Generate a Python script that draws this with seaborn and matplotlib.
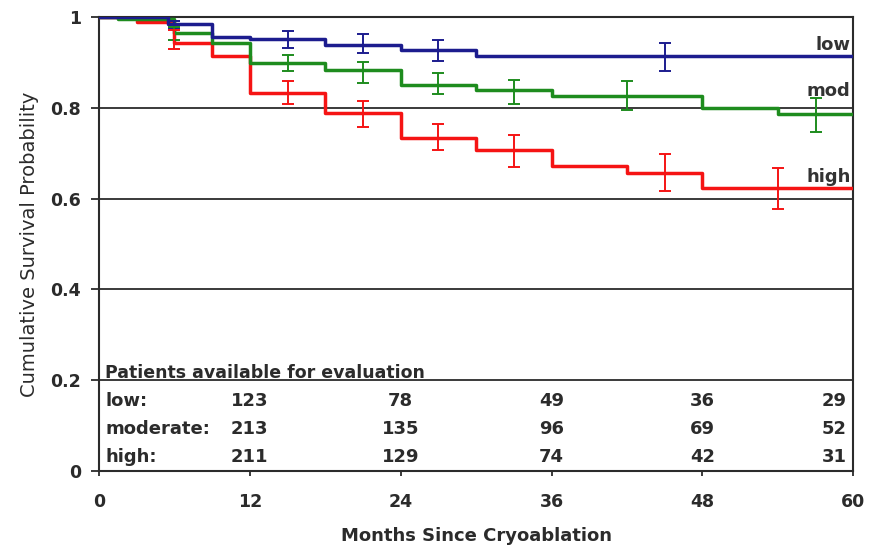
import numpy as np
import pandas as pd
import seaborn as sns
import matplotlib.pyplot as plt

# step curves (months, survival)
low_t = [0, 5.5, 9, 12, 18, 24, 30, 60]
low_s = [1, 0.984, 0.957, 0.951, 0.938, 0.927, 0.913, 0.913]
mod_t = [0, 1.5, 6, 9, 12, 18, 24, 30, 36, 48, 54, 60]
mod_s = [1, 0.995, 0.964, 0.943, 0.898, 0.883, 0.850, 0.839, 0.826, 0.799, 0.786, 0.786]
high_t = [0, 3, 6, 9, 12, 18, 24, 30, 36, 42, 48, 60]
high_s = [1, 0.988, 0.943, 0.913, 0.832, 0.788, 0.733, 0.706, 0.672, 0.657, 0.623, 0.623]

# error bars (month, lower, upper)
low_eb_t = [6, 15, 21, 27, 45]
low_eb_lo = [0.976, 0.932, 0.920, 0.904, 0.881]
low_eb_hi = [0.992, 0.969, 0.962, 0.949, 0.942]
mod_eb_t = [6, 15, 21, 27, 33, 42, 57]
mod_eb_lo = [0.950, 0.880, 0.855, 0.830, 0.808, 0.795, 0.746]
mod_eb_hi = [0.978, 0.916, 0.900, 0.877, 0.861, 0.858, 0.821]
high_eb_t = [6, 15, 21, 27, 33, 45, 54]
high_eb_lo = [0.930, 0.808, 0.758, 0.706, 0.670, 0.617, 0.576]
high_eb_hi = [0.971, 0.860, 0.816, 0.764, 0.740, 0.698, 0.667]

# patients at risk table
risk_t = [12, 24, 36, 48, 60]
risk_labels = ["low:", "moderate:", "high:"]
risk_low = [123, 78, 49, 36, 29]
risk_mod = [213, 135, 96, 69, 52]
risk_high = [211, 129, 74, 42, 31]

groups = ["low", "mod", "high"]
colors = {"low": "#1c1c8e", "mod": "#1e8c1e", "high": "#f51414"}

sns.set_style("white")
plt.rcParams["font.family"] = ["DejaVu Sans"]
ink = "#2b2b2b"

df = pd.concat([
    pd.DataFrame({"month": low_t, "surv": low_s, "group": "low"}),
    pd.DataFrame({"month": mod_t, "surv": mod_s, "group": "mod"}),
    pd.DataFrame({"month": high_t, "surv": high_s, "group": "high"}),
])

fig = plt.figure(figsize=(8.76, 5.48), dpi=100)
ax = fig.add_axes([0.113, 0.1405, 0.861, 0.8285])

# grid lines
for yv in [0.2, 0.4, 0.6, 0.8]:
    ax.axhline(yv, color=ink, lw=1.3, zorder=1)

sns.lineplot(data=df, x="month", y="surv", hue="group", palette=colors,
             hue_order=["high", "mod", "low"], drawstyle="steps-post",
             estimator=None, lw=2.5, legend=False, ax=ax, zorder=3)

ebs = {"low": (low_eb_t, low_eb_lo, low_eb_hi),
       "mod": (mod_eb_t, mod_eb_lo, mod_eb_hi),
       "high": (high_eb_t, high_eb_lo, high_eb_hi)}
for g in groups:
    t, lo, hi = ebs[g]
    lo = np.array(lo); hi = np.array(hi)
    mid = (lo + hi) / 2
    ax.errorbar(t, mid, yerr=[mid - lo, hi - mid], fmt="none",
                ecolor=colors[g], elinewidth=1.4, capsize=4, capthick=1.4, zorder=4)

# group labels at right
lab_y = {"low": 0.927, "mod": 0.826, "high": 0.637}
for g in groups:
    ax.text(59.8, lab_y[g], g, ha="right", va="baseline", fontsize=13,
            fontweight="bold", color="#333333", zorder=5)

# patients table
ax.text(0.48, 0.204, "Patients available for evaluation", ha="left", va="baseline",
        fontsize=12.5, fontweight="bold", color=ink)
rows = [risk_low, risk_mod, risk_high]
row_y = [0.143, 0.0815, 0.0205]
for lab, vals, yv in zip(risk_labels, rows, row_y):
    ax.text(0.48, yv, lab, ha="left", va="baseline", fontsize=13,
            fontweight="bold", color=ink)
    for t, v in zip(risk_t, vals):
        ha = "right" if t == 60 else "center"
        xt = 59.5 if t == 60 else t
        ax.text(xt, yv, str(v), ha=ha, va="baseline", fontsize=13,
                fontweight="bold", color=ink)

ax.set_xlim(0, 60)
ax.set_ylim(0, 1)
ax.set_xticks([0, 12, 24, 36, 48, 60])
ax.set_yticks([0, 0.2, 0.4, 0.6, 0.8, 1.0])
ax.set_yticklabels(["0", "0.2", "0.4", "0.6", "0.8", "1"])
for lab in ax.get_xticklabels() + ax.get_yticklabels():
    lab.set_fontweight("bold")
ax.tick_params(axis="y", direction="out", length=6, width=1.3, colors=ink,
               labelsize=12.5, pad=7, left=True)
ax.tick_params(axis="x", direction="out", length=3.5, width=1.3, colors=ink,
               labelsize=12.5, pad=12, bottom=True)
for sp in ax.spines.values():
    sp.set_color(ink)
    sp.set_linewidth(1.5)

ax.set_xlabel("Months Since Cryoablation", fontsize=13, fontweight="bold",
              color=ink, labelpad=12)
ax.set_ylabel("Cumulative Survival Probability", fontsize=14, color=ink, labelpad=8)

fig.savefig("out.png", dpi=100)
